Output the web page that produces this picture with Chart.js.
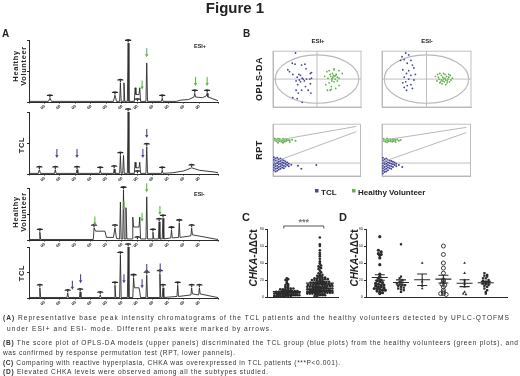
<!DOCTYPE html>
<html>
<head>
<meta charset="utf-8">
<script src="https://cdn.jsdelivr.net/npm/chart.js@4.4.0/dist/chart.umd.min.js"></script>
<style>
html, body { margin: 0; padding: 0; background: #fff; }
#page { position: relative; width: 520px; height: 376px; overflow: hidden; }
.box { position: absolute; }
.box canvas { display: block; }
#txt { position: absolute; left: 0; top: 0; z-index: 5; }
</style>
</head>
<body>
<div id="page">
<svg id="txt" width="520" height="376" font-family="Liberation Sans, Arial, sans-serif" fill="#222">
  <text x="235" y="13" font-size="15" font-weight="bold" text-anchor="middle">Figure 1</text>
  <text x="2" y="37" font-size="10" font-weight="bold">A</text>
  <text x="243" y="37" font-size="10" font-weight="bold">B</text>
  <text x="242" y="221" font-size="11" font-weight="bold">C</text>
  <text x="339" y="221" font-size="11" font-weight="bold">D</text>
  <text x="194" y="48" font-size="5.5" font-weight="bold">ESI+</text>
  <text x="194" y="196" font-size="5.5" font-weight="bold">ESI-</text>
  <g font-size="7.5" font-weight="bold" text-anchor="middle" letter-spacing="0.6">
    <text transform="translate(18,66) rotate(-90)">Healthy</text>
    <text transform="translate(25.5,66) rotate(-90)">Volunteer</text>
    <text transform="translate(24,145) rotate(-90)">TCL</text>
    <text transform="translate(18,212) rotate(-90)">Healthy</text>
    <text transform="translate(25.5,212) rotate(-90)">Volunteer</text>
    <text transform="translate(24,273) rotate(-90)">TCL</text>
  </g>
  <text x="318" y="43" font-size="6" font-weight="bold" text-anchor="middle">ESI+</text>
  <text x="427" y="43" font-size="6" font-weight="bold" text-anchor="middle">ESI-</text>
  <g font-size="9" font-weight="bold" text-anchor="middle" letter-spacing="0.5">
    <text transform="translate(262,79) rotate(-90)">OPLS-DA</text>
    <text transform="translate(262,150) rotate(-90)">RPT</text>
  </g>
  <rect x="315" y="189" width="3.5" height="3.5" fill="#45479a"/>
  <text x="321" y="195" font-size="8" font-weight="bold">TCL</text>
  <rect x="352" y="189" width="3.5" height="3.5" fill="#5fb548"/>
  <text x="358" y="195" font-size="8" font-weight="bold">Healthy Volunteer</text>
  <g font-size="10" font-weight="bold" text-anchor="middle">
    <text transform="translate(257,258) rotate(-90)"><tspan font-style="italic">CHKA</tspan>-ΔΔCt</text>
    <text transform="translate(358,258) rotate(-90)"><tspan font-style="italic">CHKA</tspan>-ΔΔCt</text>
  </g>
  <g font-size="6.6" fill="#333">
    <text x="3" y="320" textLength="506" lengthAdjust="spacing"><tspan font-weight="bold">(A)</tspan> Representative base peak intensity chromatograms of the TCL patients and the healthy volunteers detected by UPLC-QTOFMS</text>
    <text x="7" y="331" textLength="265" lengthAdjust="spacing">under ESI+ and ESI- mode.  Different peaks were marked by arrows.</text>
    <text x="3" y="345" textLength="515" lengthAdjust="spacing"><tspan font-weight="bold">(B)</tspan> The score plot of OPLS-DA models (upper panels) discriminated the TCL group (blue plots) from the healthy volunteers (green plots), and</text>
    <text x="3" y="355" textLength="232" lengthAdjust="spacing">was confirmed by response permutation test (RPT, lower pannels).</text>
    <text x="3" y="365" textLength="337" lengthAdjust="spacing"><tspan font-weight="bold">(C)</tspan> Comparing with reactive hyperplasia, CHKA was overexpressed in TCL patients (***P&lt;0.001).</text>
    <text x="3" y="374" textLength="265" lengthAdjust="spacing"><tspan font-weight="bold">(D)</tspan> Elevated CHKA levels were observed among all the subtypes studied.</text>
  </g>
</svg>
</div>
<script>
// ---- A: chromatograms, [retention time, relative intensity %] ----
const hvPos = [[0,1],[1.25,1],[1.35,6],[1.45,1],[5.45,1],[5.55,11],[5.65,1],[5.85,1],[5.9,31],[5.95,1],[6.08,1],[6.13,31],[6.18,1],[6.35,1],[6.4,95],[6.45,1],[6.8,1],[6.85,23],[6.9,12],[7.1,12],[7.15,23],[7.2,1],[7.55,1],[7.6,63],[7.65,1],[8.55,1],[8.6,6],[8.65,1],[9.5,1],[9.8,3],[10.3,4],[10.65,8],[10.7,14],[10.75,8],[11.2,7],[11.45,10],[11.5,14],[11.55,8],[12,4],[12.2,2]];
const tclPos = [[0,1],[0.6,1],[0.67,7],[0.74,1],[1.65,1],[1.7,7],[1.75,1],[3.05,1],[3.1,7],[3.15,1],[4.55,1],[4.6,6],[4.65,1],[5.45,1],[5.5,8],[5.55,1],[5.85,1],[5.9,30],[5.95,1],[6.05,1],[6.1,30],[6.15,1],[6.35,1],[6.4,100],[6.45,1],[6.8,1],[6.85,19],[6.9,10],[7.1,10],[7.15,19],[7.2,1],[7.55,1],[7.6,44],[7.65,1],[8.55,1],[8.6,6],[8.65,1],[9.3,2],[10.0,5],[10.5,10],[11.0,6],[12.0,3],[12.2,2]];
const hvNeg = [[0,1],[0.65,1],[0.7,15],[0.75,1],[4.15,1],[4.2,23],[4.3,17],[4.9,17],[5.0,5],[5.45,5],[5.55,23],[5.65,3],[5.85,2],[5.9,73],[5.95,2],[6.05,2],[6.1,96],[6.15,2],[6.2,2],[6.26,62],[6.32,2],[6.65,2],[6.7,44],[6.75,25],[7.1,25],[7.15,44],[7.2,2],[7.55,2],[7.6,83],[7.65,2],[7.95,2],[8.0,15],[8.05,2],[8.35,2],[8.4,35],[8.45,2],[8.6,2],[8.65,42],[8.7,2],[9.15,4],[9.2,19],[9.25,4],[9.65,5],[9.7,33],[9.75,5],[10.45,8],[10.5,23],[10.55,10],[12.0,2],[12.2,1]];
const tclNeg = [[0,1],[0.65,1],[0.7,20],[0.75,1],[2.45,1],[2.5,10],[2.55,1],[3.25,1],[3.3,12],[3.35,1],[4.55,1],[4.6,6],[4.65,1],[5.5,1],[5.55,25],[5.6,1],[5.85,1],[5.9,84],[5.95,1],[6.35,1],[6.4,100],[6.45,1],[6.7,1],[6.75,40],[6.8,20],[7.1,20],[7.15,12],[7.2,1],[7.55,1],[7.6,45],[7.65,1],[8.4,1],[8.45,48],[8.5,1],[8.6,1],[8.65,20],[8.7,1],[9.55,3],[9.6,25],[9.65,3],[10.45,6],[10.5,20],[10.55,8],[10.95,6],[11.0,20],[11.05,8],[12.0,2],[12.2,1]];
// labelled peaks (retention time)
const hvPosHats = [1.35,5.55,5.9,6.4,7.0,8.6,10.7,11.5];
const tclPosHats = [0.67,1.7,3.1,4.6,5.5,5.9,6.4,7.0,7.6,8.6,10.5];
const hvNegHats = [0.7,4.2,5.55,6.1,7.0,8.0,8.4,8.65,9.2,9.7,10.5];
const tclNegHats = [0.7,2.5,3.3,4.6,5.55,5.9,6.4,6.75,7.6,8.45,8.65,9.6,10.5,11.0];
// arrows: [retention time, tip intensity %]
const hvPosArrows = [[7.6,72],[7.3,20],[10.75,26],[11.5,26]];
const tclPosArrows = [[1.8,26],[3.1,26],[7.35,26],[7.6,58]];
const hvNegArrows = [[4.25,28],[6.13,58],[7.3,35],[7.6,92],[8.45,48]];
const tclNegArrows = [[2.8,16],[3.33,29],[6.13,29],[7.3,19],[7.6,49],[8.47,50]];

// ---- B: OPLS-DA scores [t1, to1] ----
const oplsPosTCL = [[-39,28],[-45,17],[-40,16],[-28,15],[-22,16],[-12,6],[-10,7],[-44,5],[-33,5],[-30,4],[-36,2],[-27,1],[-25,0],[-32,-1],[-38,-2],[-30,-3],[-23,-2],[-19,0],[-13,0],[-35,-6],[-21,-8],[-38,-12],[-28,-12],[-16,-12],[-11,-15],[-34,-15],[-44,-20],[-36,-21],[-27,-25],[-53,10],[-50,8],[-20,11],[-10,1],[-12,-5]];
const oplsPosHV = [[18,8],[22,9],[31,10],[28,6],[34,4],[25,3],[29,2],[37,2],[20,1],[33,0],[27,0],[40,1],[22,-4],[31,-3],[37,-2],[16,-6],[26,-8],[40,-7],[34,-10],[19,-12],[24,-12],[46,6],[14,3],[40,9],[31,11],[26,-11],[30,4],[28,1],[32,3],[35,5],[24,5],[27,-2]];
const oplsNegTCL = [[-28,28],[-24,26],[-33,24],[-30,21],[-21,20],[-26,17],[-19,15],[-17,12],[-32,10],[-24,9],[-27,6],[-21,4],[-30,2],[-24,0],[-17,-1],[-28,-3],[-32,-4],[-21,-6],[-26,-7],[-30,-9],[-19,-10],[-27,-12],[-35,20],[-15,5]];
const oplsNegHV = [[12,3],[15,5],[18,6],[20,4],[22,2],[25,5],[27,3],[30,2],[32,4],[17,0],[20,-1],[23,0],[26,-1],[29,0],[33,-1],[14,-2],[19,-3],[24,-3],[28,-4],[31,-3],[21,-5],[26,-6],[16,2],[35,1],[23,6],[28,-2],[18,-4],[25,1],[22,-2],[30,5]];
const ellPos = [76, 26];
const ellNeg = [57, 26];

// ---- B: permutation test [correlation, R2 / Q2] ----
const rptPosR2 = [[0.02,0.76],[0.02,0.7],[0.04,0.73],[0.04,0.67],[0.06,0.75],[0.06,0.69],[0.06,0.63],[0.08,0.74],[0.08,0.68],[0.1,0.72],[0.1,0.66],[0.12,0.75],[0.12,0.69],[0.12,0.63],[0.14,0.72],[0.14,0.66],[0.16,0.74],[0.16,0.68],[0.18,0.71],[0.2,0.7],[0.2,0.65],[0.23,0.72],[0.27,0.69]];
const rptPosQ2 = [[0.01,0.18],[0.01,0.1],[0.01,0.02],[0.01,-0.06],[0.01,-0.14],[0.01,-0.22],[0.03,0.14],[0.03,0.06],[0.03,-0.02],[0.03,-0.1],[0.03,-0.18],[0.03,-0.26],[0.05,0.16],[0.05,0.08],[0.05,0.0],[0.05,-0.08],[0.05,-0.16],[0.05,-0.24],[0.07,0.12],[0.07,0.04],[0.07,-0.04],[0.07,-0.12],[0.07,-0.2],[0.09,0.14],[0.09,0.06],[0.09,-0.02],[0.09,-0.1],[0.09,-0.18],[0.11,0.1],[0.11,0.02],[0.11,-0.06],[0.11,-0.14],[0.13,0.08],[0.13,0.0],[0.13,-0.08],[0.13,-0.16],[0.15,0.05],[0.15,-0.03],[0.15,-0.11],[0.17,0.02],[0.17,-0.06],[0.19,-0.02],[0.19,-0.1],[0.22,-0.05],[0.3,-0.08],[0.34,-0.18],[0.52,-0.06]];
const rptNegR2 = [[0.02,0.75],[0.02,0.69],[0.04,0.72],[0.04,0.66],[0.06,0.76],[0.06,0.7],[0.06,0.64],[0.08,0.73],[0.08,0.67],[0.1,0.74],[0.1,0.68],[0.12,0.72],[0.12,0.66],[0.14,0.74],[0.14,0.68],[0.16,0.71],[0.16,0.65],[0.18,0.73],[0.2,0.69],[0.22,0.71]];
const rptNegQ2 = [[0.01,0.16],[0.01,0.08],[0.01,0.0],[0.01,-0.08],[0.01,-0.16],[0.01,-0.24],[0.01,-0.32],[0.03,0.12],[0.03,0.04],[0.03,-0.04],[0.03,-0.12],[0.03,-0.2],[0.03,-0.28],[0.05,0.14],[0.05,0.06],[0.05,-0.02],[0.05,-0.1],[0.05,-0.18],[0.05,-0.26],[0.07,0.1],[0.07,0.02],[0.07,-0.06],[0.07,-0.14],[0.07,-0.22],[0.09,0.08],[0.09,0.0],[0.09,-0.08],[0.09,-0.16],[0.11,0.06],[0.11,-0.02],[0.11,-0.1],[0.11,-0.18],[0.13,0.04],[0.13,-0.04],[0.13,-0.12],[0.15,0.02],[0.15,-0.06],[0.17,-0.02],[0.17,-0.1],[0.2,-0.06],[0.24,-0.12]];
const rptPosLineR2 = [[0,0.68],[1,1.13]];
const rptPosLineQ2 = [[0,0.02],[1,0.97]];
const rptNegLineR2 = [[0,0.7],[1,1.1]];
const rptNegLineQ2 = [[0,0.03],[1,0.94]];

// ---- C: CHKA -ddCt ----
const cGroups = ['Hyperplasia', 'TCL'];
const hyperVals = [0,0,0,0,1,1,1,1,1,1,2,2,2,2,2,2,2,3,3,3,3,3,3,3,3,4,4,4,4,4,4,4,5,5,5,5,5,5,6,6,6,6,6,7,7,7,7,8,8,8,8,9,9,9,10,10,10,11,11,12,13,14,15,16,17,19,20,21,22];
const tclVals = [1,1,2,2,2,3,3,3,3,4,4,4,4,4,5,5,5,5,5,5,6,6,6,6,6,6,6,7,7,7,7,7,7,7,8,8,8,8,8,8,8,8,9,9,9,9,9,9,9,10,10,10,10,10,10,10,11,11,11,11,11,11,12,12,12,12,12,12,13,13,13,13,13,14,14,14,14,14,15,15,15,15,15,16,16,16,16,17,17,17,17,18,18,18,18,19,19,19,20,20,20,20,21,21,21,22,22,22,23,23,24,24,25,25,26,27,28,29,31,33,34,35,36,37,39,40,42,45,48,50,52,55,60,62,70];

// ---- D: subtypes ----
const dGroups = ['PTCL-NOS', 'NK/T', 'CTCL', 'T-ALL/LBL', 'ALCL', 'AITL'];
const ptclVals = [71,55,53,51,50,49,46,38,27,24,22,20,19,18,17,16,15,14,14,13,12,12,11,10,10,9,8,8,7,6,5,4];
const nktVals = [62,24,22,20,18,17,16,15,14,14,13,12,11,10,9,8,6];
const ctclVals = [40,18,13,10];
const tallVals = [60,50,40,34,28,20,18,15,14,12,8,6,4,4,3];
const alclVals = [40,28,20,18,15,12,6,4,3];
const aitlVals = [28,26,25,24,22,22,20,19,18,17,16,15,14,13,12,10,8,6,4];

const ink = '#2a2a2a';
const blue = '#45479a';
const green = '#5fb548';
const grey = '#b0b0b0';
Chart.defaults.font.family = '"Liberation Sans", Arial, sans-serif';
const page = document.getElementById('page');

// canvas whose chart area lands on [L,R]x[T,B]
function place(L, T, R, B, padL, padB, padT, padR) {
    const w = R - L + padL + padR, h = B - T + padT + padB;
    const d = document.createElement('div');
    d.className = 'box';
    d.style.left = (L - padL) + 'px';
    d.style.top = (T - padT) + 'px';
    const c = document.createElement('canvas');
    c.width = w; c.height = h;
    c.style.width = w + 'px'; c.style.height = h + 'px';
    d.appendChild(c);
    page.appendChild(d);
    return c;
}

function baseOpts(padT, padR) {
    return {
        responsive: false, animation: false, events: [],
        layout: { autoPadding: false, padding: { top: padT, right: padR, left: 0, bottom: 0 } },
        plugins: { legend: { display: false }, tooltip: { enabled: false } },
    };
}

const toXY = arr => arr.map(p => ({ x: p[0], y: p[1] }));

// peak labels + arrows on chromatograms
const marksPlugin = {
    id: 'marks',
    afterDatasetsDraw(chart) {
        const m = chart.canvas._marks;
        if (!m) return;
        const { ctx, scales: { x, y } } = chart;
        const pts = chart.data.datasets[0].data;
        ctx.save();
        ctx.fillStyle = ink;
        m.hats.forEach(rt => {
            let top = 0;
            pts.forEach(p => { if (Math.abs(p.x - rt) < 0.09 && p.y > top) top = p.y; });
            const px = x.getPixelForValue(rt), py = y.getPixelForValue(top) - 1;
            ctx.beginPath();
            ctx.ellipse(px, py - 1.2, 3.2, 1.8, 0, Math.PI, 0);
            ctx.fill();
            ctx.fillRect(px - 0.6, py - 1.5, 1.2, 1.8);
        });
        ctx.strokeStyle = m.color;
        ctx.fillStyle = m.color;
        ctx.lineWidth = 1.1;
        m.arrows.forEach(a => {
            const px = x.getPixelForValue(a[0]), py = y.getPixelForValue(a[1]);
            ctx.beginPath();
            ctx.moveTo(px, py - 9);
            ctx.lineTo(px, py - 2);
            ctx.stroke();
            ctx.beginPath();
            ctx.moveTo(px - 1.7, py - 3);
            ctx.lineTo(px + 1.7, py - 3);
            ctx.lineTo(px, py);
            ctx.closePath();
            ctx.fill();
        });
        ctx.restore();
    }
};

function chromo(pts, hats, arrows, color, T, B) {
    const c = place(29, T, 218, B, 3, 7, 12, 4);
    c._marks = { hats, arrows, color };
    const o = baseOpts(12, 4);
    o.scales = {
        x: {
            type: 'linear', min: 0, max: 12.2,
            grid: { display: true, drawOnChartArea: false, tickLength: 1.5, color: ink },
            border: { color: ink, width: 1 },
            ticks: { stepSize: 1, color: ink, padding: 0.5, font: { size: 4, weight: 'bold' },
                     callback: v => (v > 0 && Number.isInteger(v)) ? v.toFixed(2) : '' },
            afterFit: s => { s.height = 7; }
        },
        y: {
            min: 0, max: 100,
            grid: { display: true, drawOnChartArea: false, tickLength: 2, color: ink },
            border: { color: ink, width: 1 },
            ticks: { stepSize: 50, display: false },
            afterFit: s => { s.width = 3; }
        }
    };
    new Chart(c, {
        type: 'line',
        data: { datasets: [{ data: toXY(pts), borderColor: ink, borderWidth: 0.9, pointRadius: 0, tension: 0 }] },
        options: o,
        plugins: [marksPlugin]
    });
}

chromo(hvPos, hvPosHats, hvPosArrows, green, 40, 102);
chromo(tclPos, tclPosHats, tclPosArrows, blue, 112, 174);
chromo(hvNeg, hvNegHats, hvNegArrows, green, 188, 240);
chromo(tclNeg, tclNegHats, tclNegArrows, blue, 247, 298);

// frame, crosshair, ellipse, zero line
const framePlugin = {
    id: 'frame',
    beforeDatasetsDraw(chart) {
        const f = chart.canvas._frame;
        if (!f) return;
        const { ctx, chartArea: a, scales: { x, y } } = chart;
        ctx.save();
        ctx.strokeStyle = grey;
        ctx.lineWidth = 0.8;
        ctx.strokeRect(a.left, a.top, a.width, a.height);
        const y0 = y.getPixelForValue(0);
        ctx.beginPath();
        ctx.moveTo(a.left, y0); ctx.lineTo(a.right, y0);
        if (f.cross) {
            const x0 = x.getPixelForValue(0);
            ctx.moveTo(x0, a.top); ctx.lineTo(x0, a.bottom);
        }
        ctx.stroke();
        if (f.ell) {
            const cx = x.getPixelForValue(0), cy = y.getPixelForValue(0);
            ctx.strokeStyle = '#b8b8b8';
            ctx.lineWidth = 1.1;
            ctx.beginPath();
            ctx.ellipse(cx, cy, x.getPixelForValue(f.ell[0]) - cx, cy - y.getPixelForValue(f.ell[1]), 0, 0, Math.PI * 2);
            ctx.stroke();
        }
        ctx.restore();
    }
};

function smallAxes(xmin, xmax, xstep, ymin, ymax, ystep, padL, padB, xfmt, yfmt) {
    return {
        x: {
            type: 'linear', min: xmin, max: xmax,
            grid: { display: false },
            border: { color: grey, width: 0.8 },
            ticks: { stepSize: xstep, color: '#444', padding: 1, font: { size: 3.6, weight: 'bold' }, autoSkip: false, maxRotation: 0, callback: xfmt },
            afterFit: s => { s.height = padB; }
        },
        y: {
            min: ymin, max: ymax,
            grid: { display: false },
            border: { color: grey, width: 0.8 },
            ticks: { stepSize: ystep, color: '#444', padding: 1, font: { size: 3.6, weight: 'bold' }, autoSkip: false, callback: yfmt },
            afterFit: s => { s.width = padL; }
        }
    };
}

function opls(L, R, tcl, hv, xr, ell) {
    const c = place(L, 50, R, 107, 9, 6, 2, 2);
    c._frame = { cross: true, ell };
    const o = baseOpts(2, 2);
    o.scales = smallAxes(-xr, xr, 10, -30, 30, 10, 9, 6, v => v, v => v);
    new Chart(c, {
        type: 'scatter',
        data: { datasets: [
            { data: toXY(hv), pointRadius: 0.9, pointBorderWidth: 0, pointBackgroundColor: green },
            { data: toXY(tcl), pointRadius: 0.9, pointBorderWidth: 0, pointBackgroundColor: blue }
        ] },
        options: o,
        plugins: [framePlugin]
    });
}

opls(273, 362, oplsPosTCL, oplsPosHV, 80, ellPos);
opls(382, 472, oplsNegTCL, oplsNegHV, 60, ellNeg);

function rpt(L, R, r2, q2, lineR2, lineQ2) {
    const c = place(L, 123, R, 176, 9, 6, 2, 2);
    c._frame = { cross: false };
    const o = baseOpts(2, 2);
    o.scales = smallAxes(0, 1.05, 0.1, -0.4, 1.2, 0.2, 9, 6, v => v.toFixed(1), v => v.toFixed(1));
    const line = d => ({ type: 'line', data: toXY(d), borderColor: '#b8b8b8', borderWidth: 1, pointRadius: 0 });
    new Chart(c, {
        type: 'scatter',
        data: { datasets: [
            line(lineR2), line(lineQ2),
            { data: toXY(r2), pointRadius: 1, pointBorderWidth: 0, pointBackgroundColor: green },
            { data: toXY(q2), pointRadius: 1, pointBorderWidth: 0, pointBackgroundColor: blue }
        ] },
        options: o,
        plugins: [framePlugin]
    });
}

rpt(273, 362, rptPosR2, rptPosQ2, rptPosLineR2, rptPosLineQ2);
rpt(382, 472, rptNegR2, rptNegQ2, rptNegLineR2, rptNegLineQ2);

// beeswarm placement around category position
function swarm(vals, cx, bin, dx, maxHalf) {
    const groups = {};
    vals.forEach(v => {
        const k = Math.round(v / bin);
        (groups[k] = groups[k] || []).push(v);
    });
    const out = [];
    Object.values(groups).forEach(g => {
        const n = g.length;
        const step = n > 1 ? Math.min(dx, 2 * maxHalf / (n - 1)) : 0;
        g.forEach((v, i) => out.push({ x: cx + (i - (n - 1) / 2) * step, y: v }));
    });
    return out;
}

// mean +/- SEM, optional significance bracket
const errPlugin = {
    id: 'err',
    afterDatasetsDraw(chart) {
        const m = chart.canvas._err;
        if (!m) return;
        const { ctx, chartArea: a, scales: { x, y } } = chart;
        ctx.save();
        ctx.strokeStyle = ink;
        ctx.lineWidth = 1.1;
        m.groups.forEach((vals, i) => {
            const n = vals.length;
            const mean = vals.reduce((s, v) => s + v, 0) / n;
            const sd = Math.sqrt(vals.reduce((s, v) => s + (v - mean) ** 2, 0) / (n - 1));
            const se = sd / Math.sqrt(n);
            const px = x.getPixelForValue(i + 1);
            const pm = y.getPixelForValue(mean), pt = y.getPixelForValue(mean + se), pb = y.getPixelForValue(mean - se);
            ctx.beginPath();
            ctx.moveTo(px - m.wide, pm); ctx.lineTo(px + m.wide, pm);
            ctx.moveTo(px - m.cap, pt); ctx.lineTo(px + m.cap, pt);
            ctx.moveTo(px - m.cap, pb); ctx.lineTo(px + m.cap, pb);
            ctx.moveTo(px, pt); ctx.lineTo(px, pb);
            ctx.stroke();
        });
        if (m.bracket) {
            const x1 = x.getPixelForValue(1) - 3, x2 = x.getPixelForValue(2) + 4, by = a.top - 3;
            ctx.strokeStyle = '#555';
            ctx.lineWidth = 1;
            ctx.beginPath();
            ctx.moveTo(x1, by + 2.5); ctx.lineTo(x1, by); ctx.lineTo(x2, by); ctx.lineTo(x2, by + 2.5);
            ctx.stroke();
            ctx.fillStyle = '#777';
            ctx.font = 'bold 9px "Liberation Sans", Arial';
            ctx.textAlign = 'center';
            ctx.fillText('***', (x1 + x2) / 2, by - 1);
        }
        ctx.restore();
    }
};

function dotAxes(xmin, xmax, cats, padL, padB) {
    return {
        x: {
            type: 'linear', min: xmin, max: xmax,
            afterBuildTicks: s => { s.ticks = cats.map((_, i) => ({ value: i + 1 })); },
            grid: { display: false },
            border: { color: ink, width: 1 },
            ticks: { color: ink, padding: 2, font: { size: 4.6, weight: 'bold' }, autoSkip: false, maxRotation: 0,
                     callback: v => cats[Math.round(v) - 1] },
            afterFit: s => { s.height = padB; }
        },
        y: {
            min: 0, max: 80,
            grid: { display: true, drawOnChartArea: false, tickLength: 2, color: ink },
            border: { color: ink, width: 1 },
            ticks: { stepSize: 20, color: ink, padding: 1, font: { size: 4 } },
            afterFit: s => { s.width = padL; }
        }
    };
}

// C
{
    const c = place(267, 229, 338, 297, 7, 10, 20, 2);
    c._err = { groups: [hyperVals, tclVals], wide: 14, cap: 6, bracket: true };
    const o = baseOpts(20, 2);
    o.scales = dotAxes(0.4, 2.55, cGroups, 7, 10);
    const dot = d => ({ data: d, pointRadius: 1.3, pointBorderWidth: 0, pointBackgroundColor: ink });
    new Chart(c, {
        type: 'scatter',
        data: { datasets: [
            dot(swarm(hyperVals, 1, 1.6, 0.08, 0.38)),
            dot(swarm(tclVals, 2, 1.6, 0.08, 0.38))
        ] },
        options: o,
        plugins: [errPlugin]
    });
}

// D
{
    const c = place(366, 229, 507, 297, 7, 10, 4, 8);
    const dVals = [ptclVals, nktVals, ctclVals, tallVals, alclVals, aitlVals];
    c._err = { groups: dVals, wide: 8, cap: 5 };
    const o = baseOpts(4, 8);
    o.scales = dotAxes(0.35, 7.0, dGroups, 7, 10);
    const styles = ['circle', 'rect', 'triangle', 'circle', 'triangle', 'rect'];
    new Chart(c, {
        type: 'scatter',
        data: { datasets: dVals.map((vals, i) => {
            const open = dGroups[i] === 'T-ALL/LBL';
            return {
                data: swarm(vals, i + 1, 3, 0.13, 0.45),
                pointStyle: styles[i],
                pointRadius: open ? 2 : 1.6,
                pointBorderWidth: open ? 0.9 : 0,
                pointBorderColor: ink,
                pointBackgroundColor: open ? 'rgba(0,0,0,0)' : ink
            };
        }) },
        options: o,
        plugins: [errPlugin]
    });
}
</script>
</body>
</html>
